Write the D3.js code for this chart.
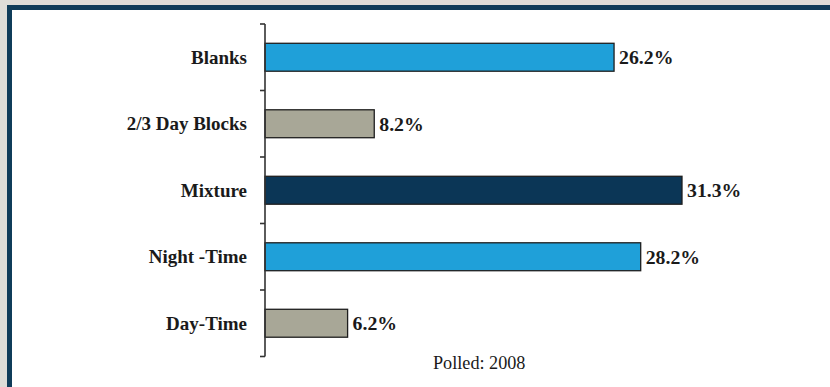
<!DOCTYPE html>
<html><head><meta charset="utf-8">
<script src="https://cdn.jsdelivr.net/npm/d3@7"></script>
<style>html,body{margin:0;padding:0;background:#deddd8;overflow:hidden}</style>
</head><body>
<script>
const categories = ["Blanks", "2/3 Day Blocks", "Mixture", "Night -Time", "Day-Time"];
const values = [26.2, 8.2, 31.3, 28.2, 6.2];
const colors = ["#1fa0d9", "#a8a797", "#0b3656", "#1fa0d9", "#a8a797"];
const note = "Polled: 2008";

const W = 830, H = 387;
const svg = d3.select("body").append("svg").attr("width", W).attr("height", H);
svg.append("rect").attr("x", 0).attr("y", 0).attr("width", W).attr("height", H).attr("fill", "#deddd8");
// panel with dark frame (top + left)
svg.append("rect").attr("x", 7).attr("y", 5).attr("width", W - 7).attr("height", H).attr("fill", "#0f3c59");
svg.append("rect").attr("x", 12).attr("y", 10).attr("width", W - 12).attr("height", H).attr("fill", "#ffffff");

const x0 = 265;
const x = d3.scaleLinear().domain([0, 31.3]).range([x0, 682]);
const y = d3.scaleBand().domain(categories).range([24, 356.5]).paddingInner(0.58).paddingOuter(0.29);

const g = svg.append("g");
g.selectAll("rect.bar").data(categories).enter().append("rect")
  .attr("class", "bar")
  .attr("x", x(0))
  .attr("y", d => y(d))
  .attr("width", (d, i) => x(values[i]) - x(0))
  .attr("height", y.bandwidth())
  .attr("fill", (d, i) => colors[i])
  .attr("stroke", "#1e1e1e").attr("stroke-width", 1.3);

// axis with ticks at band boundaries
const bounds = [24].concat(categories.map((c, i) => 24 + (i + 1) * (356.5 - 24) / categories.length));
const axisG = svg.append("g").attr("stroke", "#333").attr("stroke-width", 1.6);
axisG.append("line").attr("x1", x0).attr("x2", x0).attr("y1", 24).attr("y2", 356.5);
axisG.selectAll("line.t").data(bounds).enter().append("line")
  .attr("x1", x0 - 5).attr("x2", x0).attr("y1", d => d).attr("y2", d => d);

const serif = "'Liberation Serif', 'Times New Roman', serif";
// category labels
svg.selectAll("text.cat").data(categories).enter().append("text")
  .attr("x", 247).attr("y", d => y(d) + y.bandwidth() / 2)
  .attr("dy", "0.35em").attr("text-anchor", "end")
  .attr("font-family", serif)
  .attr("font-weight", "bold").attr("font-size", 19).attr("fill", "#1a1a1a")
  .text(d => d);

// value labels
svg.selectAll("text.val").data(categories).enter().append("text")
  .attr("x", (d, i) => x(values[i]) + 5).attr("y", d => y(d) + y.bandwidth() / 2)
  .attr("dy", "0.35em")
  .attr("font-family", serif)
  .attr("font-weight", "bold").attr("font-size", 19.8).attr("fill", "#1a1a1a")
  .text((d, i) => values[i].toFixed(1) + "%");

svg.append("text").attr("x", 433).attr("y", 369)
  .attr("font-family", serif)
  .attr("font-size", 18.2).attr("fill", "#1a1a1a").text(note);
</script>
</body></html>
